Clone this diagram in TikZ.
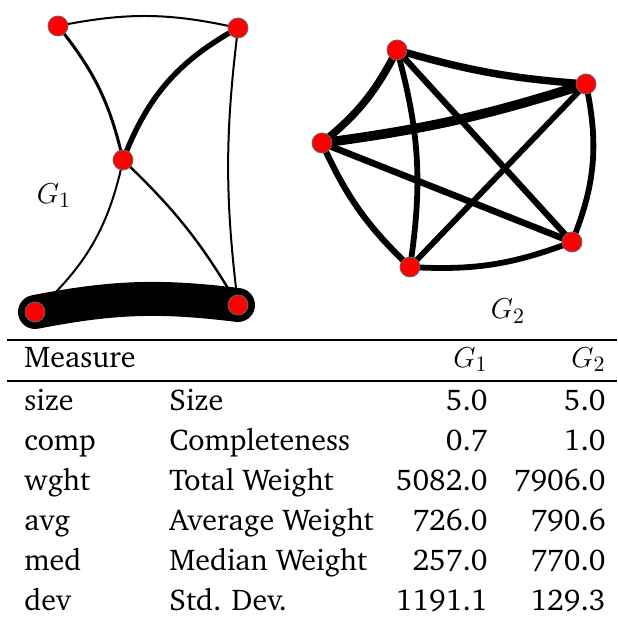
\documentclass[tikz,border=0pt]{standalone}
\usepackage[T1]{fontenc}
\usepackage{charter}
\usetikzlibrary{backgrounds}

\tikzset{
  vert/.style={circle, fill=red, draw=black!60, line width=0.4pt,
    inner sep=0pt, minimum size=10pt},
  cell/.style={inner sep=0pt, font=\fontsize{15}{18}\selectfont},
}

\begin{document}
\begin{tikzpicture}[x=0.5pt,y=-0.5pt]
  \useasboundingbox (0,0) rectangle (617,619);

  % Graph G1
  \node[vert] (a1) at (58,26) {};
  \node[vert] (b1) at (238,28) {};
  \node[vert] (c1) at (123,160) {};
  \node[vert] (d1) at (35,312) {};
  \node[vert] (e1) at (238,305) {};
  \node[cell] (g1) at (54,196) {$G_1$};

  % Graph G2
  \node[vert] (p2) at (397,50) {};
  \node[vert] (q2) at (586,84) {};
  \node[vert] (r2) at (322,143) {};
  \node[vert] (s2) at (572,242) {};
  \node[vert] (t2) at (410,267) {};
  \node[cell] (g2) at (508,311) {$G_2$};

  \begin{pgfonlayer}{background}
    % edges of G1
    \draw[line width=1pt] (a1.center) to[bend left=12] (b1.center);
    \draw[line width=1.5pt] (a1.center) to[bend left=13] (c1.center);
    \draw[line width=2.7pt] (b1.center) to[bend right=20] (c1.center);
    \draw[line width=1pt] (b1.center) to[bend right=7] (e1.center);
    \draw[line width=1pt] (c1.center) to[bend left=18] (d1.center);
    \draw[line width=1.2pt] (c1.center) to[bend left=8] (e1.center);
    \draw[line width=17pt, line cap=round] (d1.center) to[bend left=9] (e1.center);

    % edges of G2
    \draw[line width=3.7pt] (p2.center) to[bend right=6] (q2.center);
    \draw[line width=3.8pt] (p2.center) to[bend left=12] (r2.center);
    \draw[line width=2.9pt] (p2.center) to[bend left=12] (t2.center);
    \draw[line width=3.1pt] (p2.center) -- (s2.center);
    \draw[line width=4.8pt] (r2.center) to[bend right=5] (q2.center);
    \draw[line width=3.1pt] (r2.center) to[bend right=11] (t2.center);
    \draw[line width=3.3pt] (r2.center) -- (s2.center);
    \draw[line width=2.9pt] (t2.center) -- (q2.center);
    \draw[line width=2.9pt] (t2.center) to[bend right=12] (s2.center);
    \draw[line width=2.9pt] (s2.center) to[bend right=17] (q2.center);
  \end{pgfonlayer}

  % Table
  \coordinate (rl1) at (7,340);
  \coordinate (rr1) at (617,340);
  \coordinate (rl2) at (7,381);
  \coordinate (rr2) at (617,381);
  \draw[line width=1pt] (rl1) -- (rr1);
  \draw[line width=0.8pt] (rl2) -- (rr2);

  \node[cell, anchor=base west] (hm) at (24,367) {Measure};
  \node[cell, anchor=base east] (h1) at (488,367) {$G_1$};
  \node[cell, anchor=base east] (h2) at (606,367) {$G_2$};

  \foreach \short/\long/\va/\vb [count=\i from 0] in {
      size/Size/5.0/5.0,
      comp/Completeness/0.7/1.0,
      wght/Total Weight/5082.0/7906.0,
      avg/Average Weight/726.0/790.6,
      med/Median Weight/257.0/770.0,
      dev/Std. Dev./1191.1/129.3} {
    \node[cell, anchor=base west] (k\i) at (24,{410+40*\i}) {\short};
    \node[cell, anchor=base west] (n\i) at (169,{410+40*\i}) {\long};
    \node[cell, anchor=base east] (x\i) at (488,{410+40*\i}) {\va};
    \node[cell, anchor=base east] (y\i) at (606,{410+40*\i}) {\vb};
  }
\end{tikzpicture}
\end{document}
